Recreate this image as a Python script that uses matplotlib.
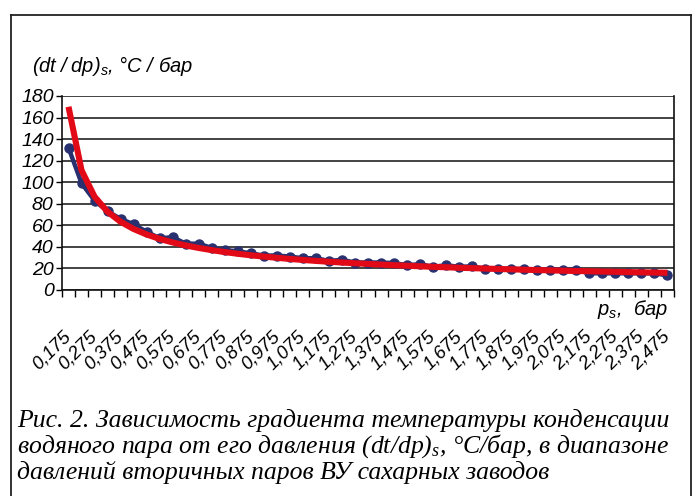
import numpy as np
import matplotlib
matplotlib.use("Agg")
import matplotlib.pyplot as plt
from matplotlib.lines import Line2D

# data: saturation pressure (bar) vs temperature gradient (dt/dp)_s, °C/bar
pressure = [0.175 + 0.05 * i for i in range(47)]
gradient = [132, 99, 83, 73, 66, 61, 54, 48, 49, 43,
            43, 39, 37, 36, 34, 32, 32, 31, 29.5, 29.5,
            27, 28, 25.5, 25.5, 25.5, 25, 23, 24, 21.5, 23,
            21.5, 22, 19.5, 19.5, 19.5, 19.5, 19, 19, 19, 19,
            15.5, 15.5, 15.5, 15.5, 15.5, 15.5, 13.5]
# power trendline (red curve)
trend = [170, 111.1, 86.6, 72.6, 63.3, 56.6, 51.5, 47.4, 44.1, 41.3,
         39.0, 37.0, 35.2, 33.6, 32.2, 31.0, 29.9, 28.8, 27.9, 27.0,
         26.2, 25.5, 24.8, 24.2, 23.6, 23.0, 22.5, 22.0, 21.5, 21.1,
         20.6, 20.3, 19.9, 19.5, 19.2, 18.8, 18.5, 18.2, 17.9, 17.6,
         17.4, 17.1, 16.9, 16.6, 16.4, 16.2, 16.0]
tick_labels = [f"{p:.3f}".replace(".", ",") for p in pressure]

plt.rcParams["font.family"] = "Liberation Sans"
plt.rcParams["font.style"] = "italic"
plt.rcParams["mathtext.fontset"] = "custom"
plt.rcParams["mathtext.sf"] = "Liberation Sans:italic"
plt.rcParams["mathtext.it"] = "Liberation Serif:italic"
plt.rcParams["mathtext.rm"] = "Liberation Serif:italic"

W, H = 698, 496
fig = plt.figure(figsize=(W / 100, H / 100), dpi=100)
ax = fig.add_axes([62 / W, 1 - 290 / H, (674 - 62) / W, (290 - 96) / H])

x = np.arange(len(gradient))
ax.plot(x, gradient, color="#28306f", lw=3.2, marker="o", ms=6.5, zorder=3)
ax.plot(x, trend, color="#e30a17", lw=4.4, solid_capstyle="butt", zorder=4)

ax.set_xlim(-0.5, len(x) - 0.5)
ax.set_ylim(0, 180)
ax.set_yticks(range(0, 181, 20))
ax.set_yticklabels([str(v) for v in range(0, 181, 20)], fontsize=14)
ax.yaxis.grid(True, color="#222222", lw=1.2)
ax.set_axisbelow(True)
ax.tick_params(axis="y", length=4, width=1, pad=2, direction="out")

# category boundary ticks, labels every second category
ax.set_xticks(np.arange(-0.5, len(x)), minor=True)
ax.tick_params(axis="x", which="minor", length=5, width=1, direction="out")
ax.set_xticks(x[::2])
ax.set_xticklabels(tick_labels[::2], fontsize=13.5,
                   rotation=45, ha="right", va="center", rotation_mode="anchor")
ax.tick_params(axis="x", which="major", length=0, pad=32)

for side in ["left", "right", "bottom"]:
    ax.spines[side].set_color("#111111")
    ax.spines[side].set_linewidth(1.2)
ax.spines["top"].set_visible(False)

fig.text(32 / W, 1 - 72 / H, r"$\mathsf{(dt\ /\ dp)}_{\mathsf{s}}$, °C / бар",
         fontsize=14.5, va="baseline")
fig.text(668 / W, 1 - 315 / H, r"$\mathsf{p}_{\mathsf{s}}$,  бар",
         fontsize=14.5, ha="right", va="baseline")

# caption
cap = dict(fontsize=18.5, family="Liberation Serif", va="baseline")
fig.text(17 / W, 1 - 427 / H, "Рис. 2. Зависимость градиента температуры конденсации", **cap)
fig.text(17 / W, 1 - 453 / H, r"водяного пара от его давления $(dt/dp)_s$, °C/бар, в диапазоне", **cap)
fig.text(17 / W, 1 - 479 / H, "давлений вторичных паров ВУ сахарных заводов", **cap)

# outer frame
frame = dict(color="#222222", lw=1.3, transform=fig.transFigure)
fig.add_artist(Line2D([11 / W, 11 / W], [0, 1 - 15 / H], **frame))
fig.add_artist(Line2D([691 / W, 691 / W], [0, 1 - 15 / H], **frame))
fig.add_artist(Line2D([11 / W, 691 / W], [1 - 15 / H, 1 - 15 / H], **frame))

fig.savefig("out.png", dpi=100)
